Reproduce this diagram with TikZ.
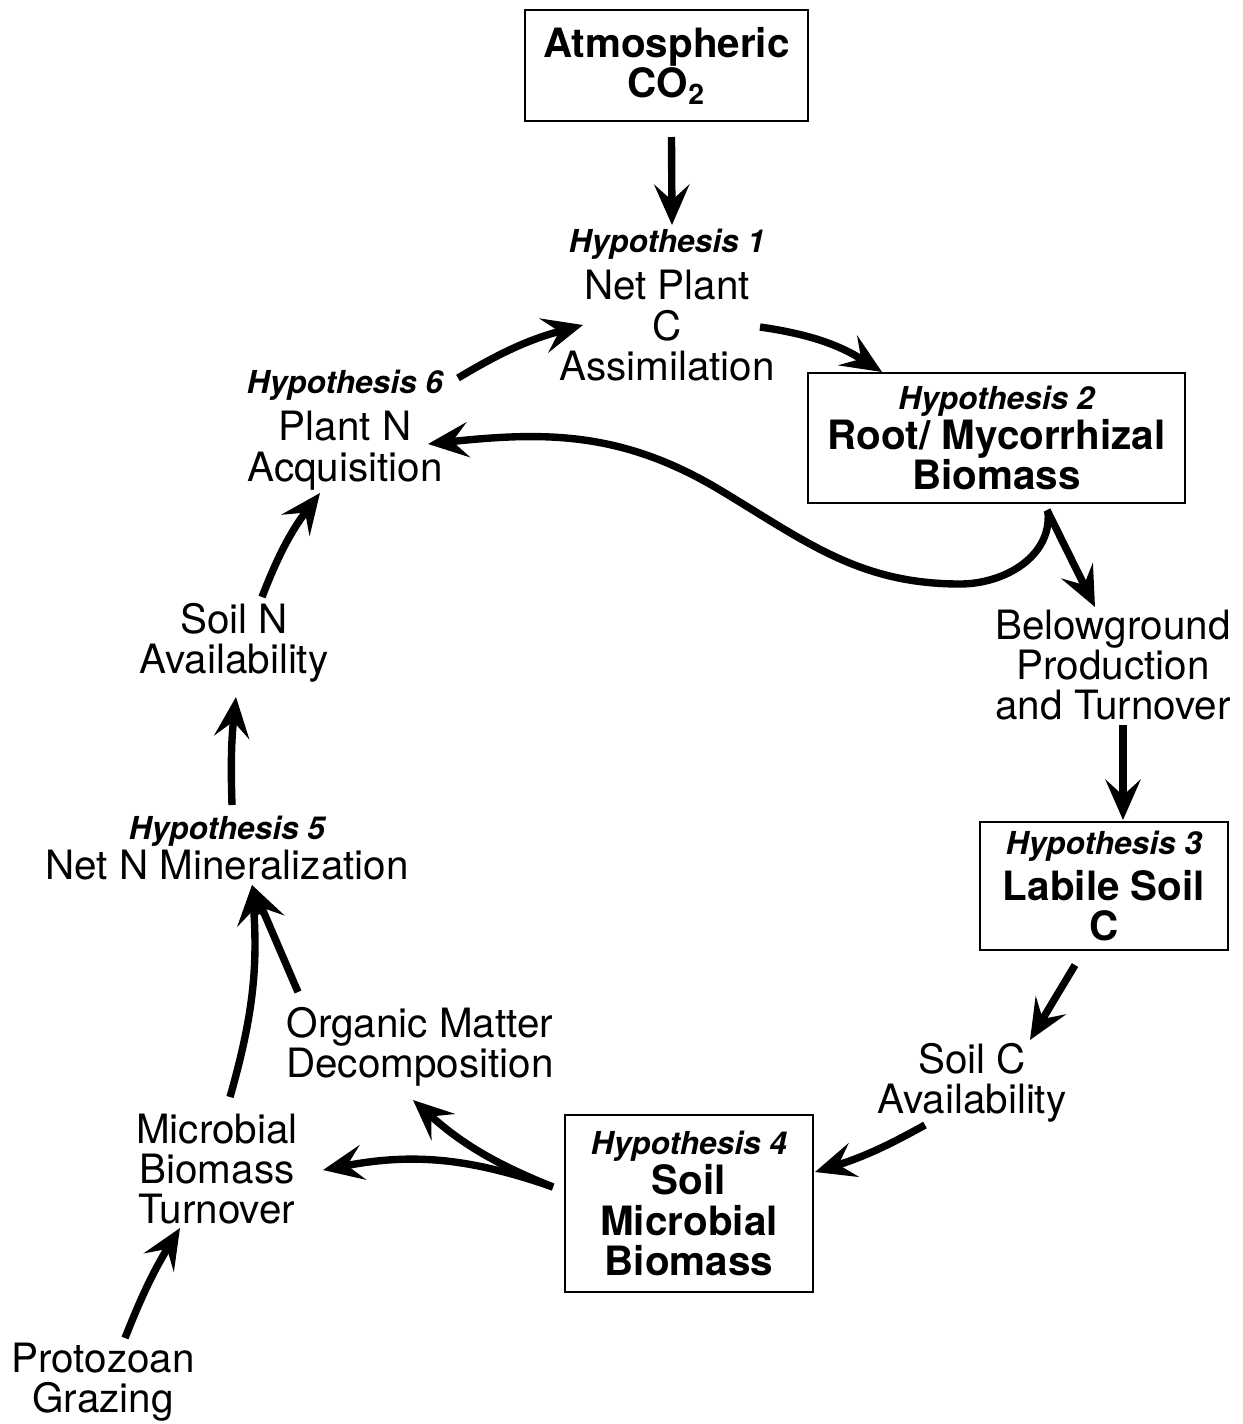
\documentclass[tikz,border=0pt]{standalone}
\usepackage{fontspec}
\setmainfont{TeX Gyre Heros}
\usetikzlibrary{arrows.meta, calc}

\newcommand{\hyp}[1]{{\fontsize{18}{23}\selectfont\bfseries\itshape #1}}

\begin{document}
\begin{tikzpicture}[x=0.02cm, y=0.02cm, >=Stealth]
  % Styles
  \tikzset{
    flow/.style={line width=4.2pt, -{Stealth[length=23pt, width=20pt, inset=9pt]}},
    hypbox/.style={draw, line width=1.6pt, align=center, inner sep=0pt,
      font=\fontsize{23}{23}\selectfont\bfseries},
    txtnode/.style={align=center, inner sep=0pt, font=\fontsize{23}{23}\selectfont},
  }
  \useasboundingbox (0,0) rectangle (1243,-1424);
  % Boxed pools
  \node (atmco2) [hypbox, minimum width=5.66cm, minimum height=2.22cm] at (666.5,-65.5)
    {Atmospheric\\CO\textsubscript{2}};
  \node (rootbio) [hypbox, minimum width=7.54cm, minimum height=2.6cm] at (996.5,-438)
    {\hyp{Hypothesis 2}\\Root/ Mycorrhizal\\Biomass};
  \node (labilec) [hypbox, minimum width=4.96cm, minimum height=2.56cm] at (1104,-886)
    {\hyp{Hypothesis 3}\\[3pt]Labile Soil\\C};
  \node (soilmicro) [hypbox, minimum width=4.96cm, minimum height=3.54cm] at (689,-1203.5)
    {\hyp{Hypothesis 4}\\Soil\\Microbial\\Biomass};
  % Processes
  \node (netplant) [txtnode] at (667,-305) {\hyp{Hypothesis 1}\\[4pt]Net Plant\\C\\Assimilation};
  \node (plantn) [txtnode] at (345,-430) {\hyp{Hypothesis 6}\\[4pt]Plant N\\Acquisition};
  \node (belowprod) [txtnode] at (1113,-665) {Belowground\\Production\\and Turnover};
  \node (soilcavail) [txtnode] at (972,-1083) {Soil C\\Availability};
  \node (orgdecomp) [txtnode] at (420,-1047) {Organic Matter\\Decomposition};
  \node (microturn) [txtnode] at (217,-1169) {Microbial\\Biomass\\Turnover};
  \node (protozoan) [txtnode] at (103,-1382) {Protozoan\\Grazing};
  \node (netnmin) [txtnode] at (227,-848) {\hyp{Hypothesis 5}\\Net N Mineralization};
  \node (soilnavail) [txtnode] at (234,-643) {Soil N\\Availability};
  % Carbon side
  \draw[flow] ($(atmco2.center)+(5,-71.5)$) -- ($(netplant.center)+(5,80)$);
  \draw[flow] ($(netplant.center)+(93,-22)$) to[bend left=12] ($(rootbio.center)+(-114.5,66)$);
  \draw[flow] ($(rootbio.center)+(50.5,-72)$) -- ($(belowprod.center)+(-18,58)$);
  \draw[flow] ($(belowprod.center)+(10,-60)$) -- ($(labilec.center)+(19,66)$);
  \draw[flow] ($(labilec.center)+(-29,-79)$) -- ($(soilcavail.center)+(58,43)$);
  \draw[flow] ($(soilcavail.center)+(-47,-42)$) to[bend left=6] ($(soilmicro.center)+(126,31.5)$);
  % Nitrogen side
  \draw[flow] ($(soilmicro.center)+(-136,16.5)$) to[bend right=15] ($(microturn.center)+(106,-1)$);
  \draw[flow] ($(soilmicro.center)+(-136,16.5)$) to[bend left=10] ($(orgdecomp.center)+(-7,-53)$);
  \draw[flow] ($(protozoan.center)+(22,44)$) to[bend left=5] ($(microturn.center)+(-37,-59)$);
  \draw[flow] ($(microturn.center)+(13,72)$) to[bend right=10] ($(netnmin.center)+(25,-37)$);
  \draw[flow] ($(orgdecomp.center)+(-122,55)$) -- ($(netnmin.center)+(25,-37)$);
  \draw[flow] ($(netnmin.center)+(5,43)$) to[bend left=4] ($(soilnavail.center)+(2,-54)$);
  \draw[flow] ($(soilnavail.center)+(28,46)$) to[bend left=8] ($(plantn.center)+(-25,-63)$);
  \draw[flow] ($(plantn.center)+(113,52)$) to[bend left=8] ($(netplant.center)+(-84,-20)$);
  % Feedback from roots to plant N
  \draw[flow] ($(rootbio.center)+(51.5,-74)$) to[out=-85, in=0]
    ($(rootbio.center)+(-36.5,-146)$) to[out=180, in=-31]
    ($(rootbio.center)+(-276.5,-52)$) to[out=149, in=6]
    ($(plantn.center)+(83,-14)$);
\end{tikzpicture}
\end{document}
